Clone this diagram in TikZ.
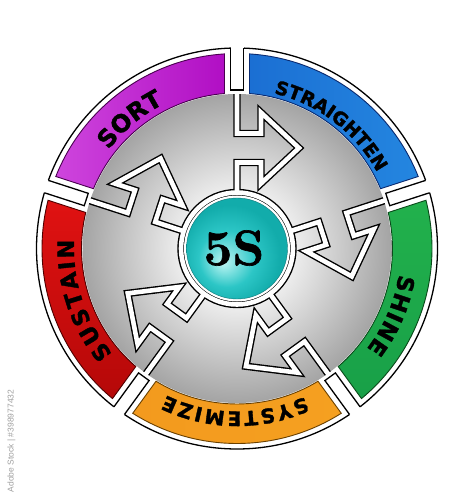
\documentclass[tikz,border=0pt]{standalone}
\usepackage{fontspec}
\newfontfamily\bandfont{DejaVu Sans Bold}[FakeBold=1.6]
\newfontfamily\corefont{lmroman10-bold.otf}[FakeBold=1.3]
\newfontfamily\stockfont{Liberation Sans}
\usetikzlibrary{decorations.text}

\definecolor{discmid}{HTML}{EFEFEF}
\definecolor{discedge}{HTML}{A4A4A4}
\definecolor{tealhi}{HTML}{BDF5F3}
\definecolor{tealmid}{HTML}{2CC6C6}
\definecolor{tealedge}{HTML}{12ACAB}
\pgfdeclareradialshading{hubshade}{\pgfpoint{0bp}{0bp}}{color(0bp)=(discmid); color(9bp)=(discmid); color(25bp)=(discedge); color(50bp)=(discedge)}
\pgfdeclareradialshading{tealshade}{\pgfpoint{-7bp}{-7bp}}{color(0bp)=(tealhi); color(14bp)=(tealmid); color(25bp)=(tealedge); color(50bp)=(tealedge)}

% colours used by the band styles
\definecolor{sortA}{HTML}{CE45DD}\definecolor{sortB}{HTML}{EA78F3}
\definecolor{sortC}{HTML}{B10FC4}\definecolor{sortD}{HTML}{4A0050}
\definecolor{straightenA}{HTML}{1B6FD3}\definecolor{straightenB}{HTML}{19A6F0}
\definecolor{straightenC}{HTML}{2486E0}\definecolor{straightenD}{HTML}{0A2A70}
\definecolor{shineA}{HTML}{22B14C}\definecolor{shineB}{HTML}{8ED83A}
\definecolor{shineC}{HTML}{18A048}\definecolor{shineD}{HTML}{0A4A1A}
\definecolor{systemizeA}{HTML}{F39A1E}\definecolor{systemizeB}{HTML}{FFCF22}
\definecolor{systemizeC}{HTML}{F5A020}\definecolor{systemizeD}{HTML}{6A4000}
\definecolor{sustainA}{HTML}{E01212}\definecolor{sustainB}{HTML}{E41818}
\definecolor{sustainC}{HTML}{B50808}\definecolor{sustainD}{HTML}{500000}

\tikzset{
  rim/.style={draw=black, line width=1.3},
  channel edge/.style={draw=black, line width=7.4, line join=miter},
  channel fill/.style={draw=white, line width=4.6, line join=miter},
  band/.style={line width=0.9},
  sortband/.style={left color=sortA, middle color=sortB, right color=sortC, draw=sortD},
  straightenband/.style={left color=straightenA, middle color=straightenB, right color=straightenC, draw=straightenD},
  shineband/.style={top color=shineA, middle color=shineB, bottom color=shineC, draw=shineD},
  systemizeband/.style={left color=systemizeA, middle color=systemizeB, right color=systemizeC, draw=systemizeD},
  sustainband/.style={top color=sustainA, middle color=sustainB, bottom color=sustainC, draw=sustainD},
}

% bent arrow, drawn for the gap at the top
\newcommand\arrowpath{(0,157) -- (0,115) -- (24,115) -- (24,136) -- (62,100.5) -- (24,65) -- (24,86) -- (0,86) -- (0,56)}
% label along a band: start angle, end angle, radius, size, text
\newcommand\bandtext[5]{\path[decorate, decoration={text along path, text align={fit to path},
    text={|\bandfont\fontsize{#4}{#4}\selectfont|#5}}] (#1:#3) arc[start angle=#1, end angle=#2, radius=#3];}

\begin{document}
\begin{tikzpicture}[x=1pt,y=1pt]
	\useasboundingbox (-237,-251.5) rectangle (236,248.5);
	% white frame and the notches between the bands
	\fill[white] (0,0) circle (200.5);
	\draw[rim] (0,0) circle (200.5);
	\foreach \g in {90,18,-54,-126,162}{
		\begin{scope}[rotate=\g-90]
			\fill[white] (-6.5,158.5) rectangle (6.5,204);
			\draw[rim] (-6.5,200.4) -- (-6.5,158.5) -- (6.5,158.5) -- (6.5,200.4);
		\end{scope}
	}
	\shade[shading=hubshade] (0,0) circle (154.5);
	% coloured bands
	\foreach \hi/\col in {162/sort,90/straighten,18/shine,-54/systemize,-126/sustain}{
		\pgfmathsetmacro\lo{\hi-72}
		\shade[band, \col band] ({\hi-3.675}:195) arc[start angle={\hi-3.675}, end angle={\lo+3.675}, radius=195]
			-- ({\lo+4.611}:155.5) arc[start angle={\lo+4.611}, end angle={\hi-4.611}, radius=155.5] -- cycle;
	}
	% arrows and hub ring
	\begin{scope}
		\clip (0,0) circle (154.5);
		\foreach \g in {90,18,-54,-126,162}
			\draw[channel edge, rotate=\g-90] \arrowpath;
	\end{scope}
	\draw[channel edge] (0,0) circle (56);
	\foreach \g in {90,18,-54,-126,162}
		\draw[channel fill, rotate=\g-90] \arrowpath;
	\draw[channel fill] (0,0) circle (56);
	\fill[white] (0,0) circle (53);
	\shade[shading=tealshade, draw=tealedge!70!black, line width=0.4] (0,0) circle (50.5);
	\node (core) at (-3,0.5) {\corefont\fontsize{50}{50}\selectfont 5S};
	% band labels
	\bandtext{142.5}{118}{162}{24}{SORT}
	\bandtext{76.6}{28.5}{159.5}{18.5}{STRAIGHTEN}
	\bandtext{-9.1}{-37.8}{164}{22.5}{SHINE}
	\bandtext{-65.4}{-115.8}{163}{20}{SYSTEMIZE}
	\bandtext{220.2}{176.9}{163}{22.5}{SUSTAIN}
	\node[rotate=90, text=gray!75] (stockid) at (-225.5,-192.5) {\stockfont\fontsize{8.5}{8.5}\selectfont Adobe Stock | \#398977432};
\end{tikzpicture}
\end{document}
